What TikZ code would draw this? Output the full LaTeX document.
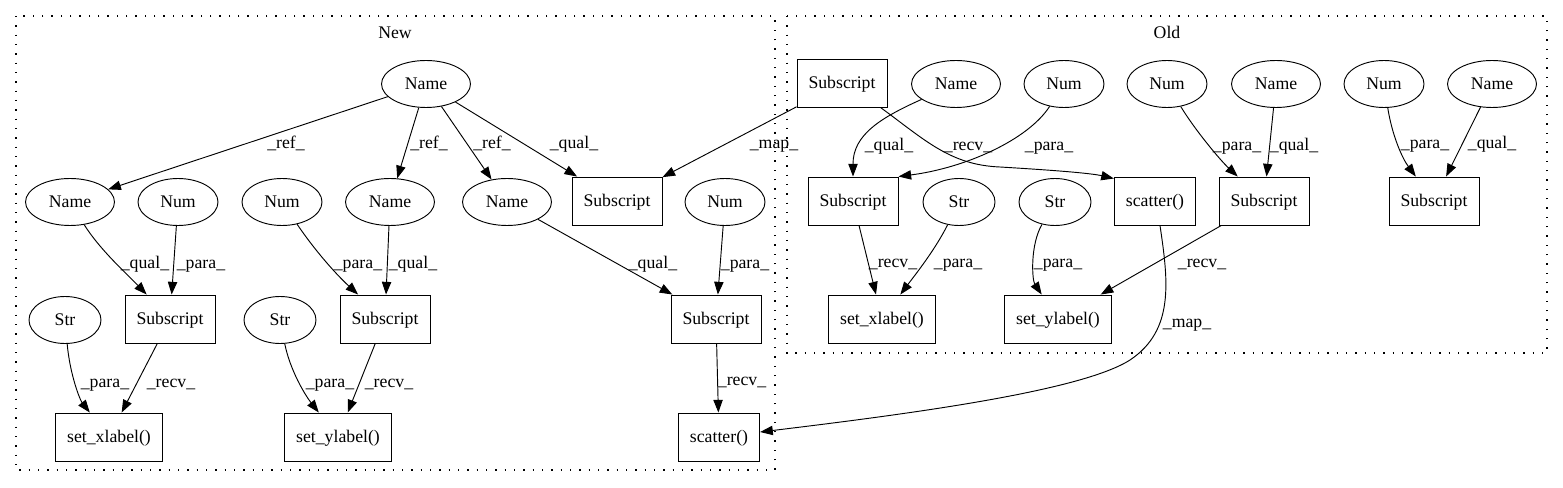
\documentclass[tikz,border=0pt]{standalone}
\usepackage{fontspec}
\setmainfont{Liberation Serif}
\usetikzlibrary{shapes.geometric,arrows.meta,calc}
\begin{document}
\begin{tikzpicture}[x=0.75pt,y=-0.75pt,
  every node/.style={font=\fontsize{13.3}{16}\selectfont, text height=8.8pt, text depth=0pt, inner sep=0pt},
  ell/.style={ellipse,draw,line width=0.7pt,minimum height=35.25pt},
  nm/.style={ell,minimum width=66.75pt},
  nu/.style={ell,minimum width=60pt},
  st/.style={ell,minimum width=54pt},
  bx/.style={draw,rectangle,line width=0.7pt,minimum height=36pt},
  sbx/.style={bx,minimum width=67.5pt},
  lbx/.style={bx,minimum width=80pt},
  cbx/.style={bx,minimum width=61pt},
  lab/.style={},
  arr/.style={-{Triangle[length=9.5pt,width=7pt]},line width=0.7pt},
  cl/.style={draw,line width=0.8pt,dash pattern=on 1pt off 6pt}]
\useasboundingbox (0,0) rectangle (1563,488);
% clusters
\draw[cl] (16,16) rectangle (775,470);
\draw[cl] (787,16) rectangle (1547,353);
\node (tNew) at (395,33) {New};
\node (tOld) at (1167,33) {Old};
% New nodes
\node[nm] (nT) at (426,84) {Name};
\node[nm] (n1) at (70,202) {Name};
\node[nu] (u1) at (178,202) {Num};
\node[nu] (u2) at (282,202) {Num};
\node[nm] (n2) at (390,202) {Name};
\node[nm] (n3) at (507,202) {Name};
\node[sbx] (sN) at (617,201) {Subscript};
\node[nu] (u3) at (725,202) {Num};
\node[sbx] (sA) at (170,319) {Subscript};
\node[sbx] (sB) at (385,319) {Subscript};
\node[sbx] (sC) at (716,319) {Subscript};
\node[st] (t1) at (65,320) {Str};
\node[st] (t2) at (280,320) {Str};
\node[lbx] (xN) at (109,437) {set\_xlabel()};
\node[lbx] (yN) at (338,437) {set\_ylabel()};
\node[cbx] (cN) at (719,437) {scatter()};
% Old nodes
\node[sbx] (sT) at (842,83) {Subscript};
\node[nm] (on1) at (956,84) {Name};
\node[nu] (ou1) at (1064,84) {Num};
\node[nu] (ou2) at (1167,84) {Num};
\node[nm] (on2) at (1276,84) {Name};
\node[nu] (ou3) at (1384,84) {Num};
\node[nm] (on3) at (1492,84) {Name};
\node[sbx] (sO1) at (853,201) {Subscript};
\node[st] (ot1) at (959,202) {Str};
\node[st] (ot2) at (1055,202) {Str};
\node[cbx] (cO) at (1155,201) {scatter()};
\node[sbx] (sO2) at (1264,201) {Subscript};
\node[sbx] (sO3) at (1434,201) {Subscript};
\node[lbx] (xO) at (882,319) {set\_xlabel()};
\node[lbx] (yO) at (1058,319) {set\_ylabel()};
% New edges
\draw[arr] (nT) -- (n1);
\draw[arr] (nT) -- (n2);
\draw[arr] (nT) -- (n3);
\draw[arr] (nT) -- (sN);
\draw[arr] (sT) -- (sN);
\draw[arr] (n1) .. controls (100,250) and (128,275) .. (sA);
\draw[arr] (u1) -- (sA);
\draw[arr] (u2) .. controls (318,255) and (340,278) .. (sB);
\draw[arr] (n2) -- (sB);
\draw[arr] (n3) -- (sC);
\draw[arr] (u3) -- (sC);
\draw[arr] (t1) .. controls (70,375) and (80,400) .. (xN);
\draw[arr] (sA) -- (xN);
\draw[arr] (t2) .. controls (290,370) and (305,395) .. (yN);
\draw[arr] (sB) -- (yN);
\draw[arr] (sC) -- (cN);
% Old edges
\draw[arr] ($(sT.south east)+(-7,0)$) .. controls (925,140) and (950,165) .. (1000,167) .. controls (1050,170) and (1090,173) .. ($(cO.north west)+(0,2)$);
\draw[arr] (on1) .. controls (880,118) and (853,135) .. (sO1);
\draw[arr] (ou1) .. controls (1028,140) and (965,168) .. (sO1.north east);
\draw[arr] (on2) -- (sO2);
\draw[arr] (ou2) .. controls (1195,130) and (1220,160) .. (sO2);
\draw[arr] (ou3) .. controls (1392,135) and (1402,158) .. (sO3);
\draw[arr] (on3) -- (sO3);
\draw[arr] (sO1) -- (xO);
\draw[arr] (ot1) .. controls (935,250) and (915,275) .. (xO);
\draw[arr] (ot2) .. controls (1030,245) and (1032,280) .. (yO);
\draw[arr] (sO2) -- (yO);
\draw[arr] ($(cO.south)+(5,0)$) .. controls (1168,280) and (1175,330) .. (1130,360) .. controls (1080,392) and (900,415) .. ($(cN.east)+(0,-5)$);
% labels
\node[lab] (l1) at (286,143) {\_ref\_};
\node[lab] (l2) at (429,143) {\_ref\_};
\node[lab] (l3) at (492,143) {\_ref\_};
\node[lab] (l4) at (574,143) {\_qual\_};
\node[lab] (l5) at (774,143) {\_map\_};
\node[lab] (l6) at (145,263) {\_qual\_};
\node[lab] (l7) at (201,263) {\_para\_};
\node[lab] (l8) at (358,263) {\_para\_};
\node[lab] (l9) at (413,263) {\_qual\_};
\node[lab] (l10) at (653,263) {\_qual\_};
\node[lab] (l11) at (745,263) {\_para\_};
\node[lab] (l12) at (105,382) {\_para\_};
\node[lab] (l13) at (171,382) {\_recv\_};
\node[lab] (l14) at (330,382) {\_para\_};
\node[lab] (l15) at (389,382) {\_recv\_};
\node[lab] (l16) at (742,380) {\_recv\_};
\node[lab] (l17) at (889,145) {\_qual\_};
\node[lab] (l18) at (968,145) {\_recv\_};
\node[lab] (l19) at (1049,145) {\_para\_};
\node[lab] (l20) at (1237,145) {\_para\_};
\node[lab] (l21) at (1294,145) {\_qual\_};
\node[lab] (l22) at (1425,143) {\_para\_};
\node[lab] (l23) at (1492,143) {\_qual\_};
\node[lab] (l24) at (893,262) {\_recv\_};
\node[lab] (l25) at (958,262) {\_para\_};
\node[lab] (l26) at (1058,262) {\_para\_};
\node[lab] (l27) at (1202,262) {\_recv\_};
\node[lab] (l28) at (1187,322) {\_map\_};
\end{tikzpicture}
\end{document}
